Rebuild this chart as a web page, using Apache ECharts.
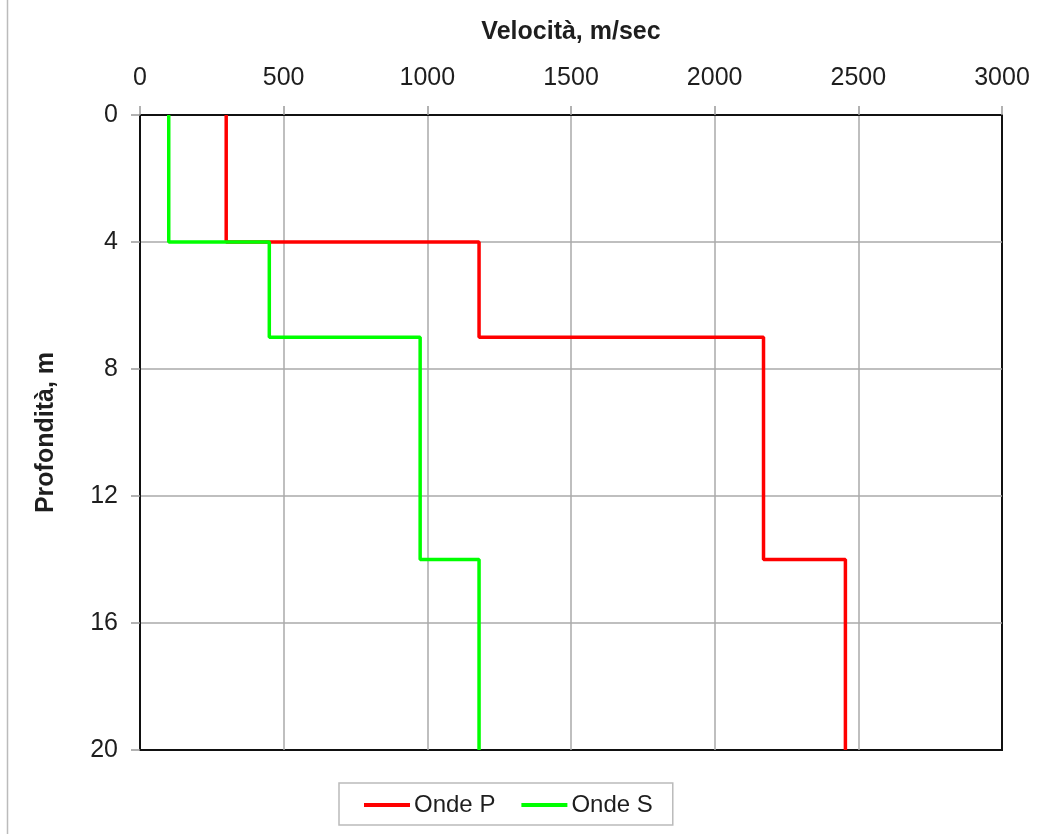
<!DOCTYPE html>
<html>
<head>
<meta charset="utf-8">
<script src="https://cdn.jsdelivr.net/npm/echarts@6/dist/echarts.min.js"></script>
<style>
  html, body { margin: 0; padding: 0; background: #fff; }
  #chart { width: 1055px; height: 834px; }
</style>
</head>
<body>
<div id="chart"></div>
<script>
// strati: profondità dei limiti (m) e velocità per strato (m/sec)
const depths = [0, 4, 7, 14, 20];
const velP = [300, 1180, 2170, 2455];
const velS = [100, 450, 975, 1180];
const xTicks = [0, 500, 1000, 1500, 2000, 2500, 3000];
const yTicks = [0, 4, 8, 12, 16, 20];

// profilo a gradini: ogni strato va dalla profondità di tetto a quella di letto
function stepProfile(vel) {
  let pts = [];
  vel.forEach((v, i) => {
    pts.push([v, depths[i]]);
    pts.push([v, depths[i + 1]]);
  });
  return pts;
}

const font = "'Liberation Sans', Arial, sans-serif";
const txt = '#1e1e1e';

let chart = echarts.init(document.getElementById('chart'));
chart.setOption({
  animation: false,
  textStyle: { fontFamily: font },
  grid: {
    left: 140, top: 115, right: 53, bottom: 84,
    show: true, borderColor: '#111', borderWidth: 2
  },
  graphic: [{
    type: 'line',
    shape: { x1: 7.5, y1: 0, x2: 7.5, y2: 834 },
    style: { stroke: '#bbb', lineWidth: 1.5 }
  }],
  xAxis: {
    type: 'value',
    position: 'top',
    min: xTicks[0], max: xTicks[xTicks.length - 1], interval: 500,
    name: 'Velocità, m/sec',
    nameLocation: 'middle',
    nameGap: 70,
    nameTextStyle: { fontSize: 25, fontWeight: 'bold', color: txt, fontFamily: font },
    axisLine: { show: true, lineStyle: { color: '#111', width: 2 } },
    axisTick: { show: true, length: 9, lineStyle: { color: '#999', width: 1.5 } },
    axisLabel: { fontSize: 25, color: txt, margin: 24, fontFamily: font, formatter: v => String(v) },
    splitLine: { show: true, showMinLine: false, showMaxLine: false, lineStyle: { color: '#aaa', width: 1.5 } }
  },
  yAxis: {
    type: 'value',
    inverse: true,
    min: yTicks[0], max: yTicks[yTicks.length - 1], interval: 4,
    name: 'Profondità, m',
    nameLocation: 'middle',
    nameGap: 81,
    nameTextStyle: { fontSize: 25, fontWeight: 'bold', color: txt, fontFamily: font },
    axisLine: { show: true, lineStyle: { color: '#111', width: 2 } },
    axisTick: { show: true, length: 9, lineStyle: { color: '#999', width: 1.5 } },
    axisLabel: { fontSize: 25, color: txt, margin: 22, fontFamily: font, formatter: v => String(v) },
    splitLine: { show: true, showMinLine: false, showMaxLine: false, lineStyle: { color: '#aaa', width: 1.5 } }
  },
  legend: {
    left: 339, top: 783,
    width: 335,
    padding: [10, 20, 8, 25],
    itemGap: 26,
    itemWidth: 46,
    itemHeight: 4,
    icon: 'rect',
    borderColor: '#bbb',
    borderWidth: 1.5,
    textStyle: { fontSize: 24, color: txt, fontFamily: font, padding: [0, 0, 0, -1] },
    data: ['Onde P', 'Onde S']
  },
  series: [
    {
      name: 'Onde P',
      type: 'line',
      data: stepProfile(velP),
      symbol: 'none',
      color: '#ff0000',
      lineStyle: { color: '#ff0000', width: 3.5 }
    },
    {
      name: 'Onde S',
      type: 'line',
      data: stepProfile(velS),
      symbol: 'none',
      color: '#00ff00',
      lineStyle: { color: '#00ff00', width: 3.5 }
    }
  ]
});
</script>
</body>
</html>
